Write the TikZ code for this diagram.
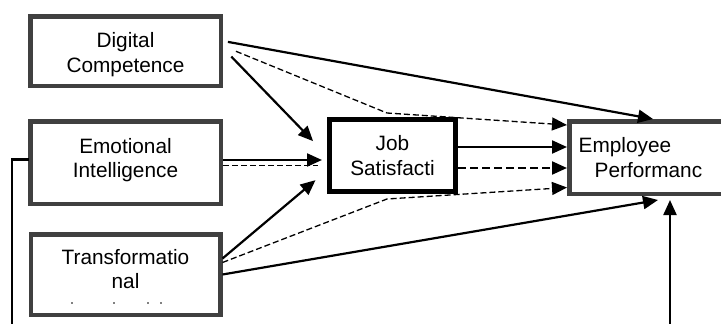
\documentclass[tikz,border=0pt]{standalone}
\usepackage{fontspec}
\setmainfont{Liberation Sans}
\usetikzlibrary{arrows.meta}

\definecolor{boxgray}{gray}{0.25}

\tikzset{
  box/.style={draw=boxgray, line width=4.5pt, fill=white, inner sep=0pt},
  jobbox/.style={draw=black, line width=5pt, fill=white, inner sep=0pt},
  lbl/.style={font=\fontsize{20.8}{24.5}\selectfont, align=center, inner sep=0pt},
  conn/.style={line width=2.2pt, -{Triangle[length=15pt,width=13pt]}},
  thindash/.style={line width=1.3pt, dash pattern=on 6pt off 3pt},
  thickdash/.style={line width=2.2pt, dash pattern=on 8pt off 4pt}
}

\begin{document}
\begin{tikzpicture}[x=1pt, y=-1pt]

        \useasboundingbox (0,0) rectangle (721,324);

        % Kaesten
        \node[box, minimum width=190.5pt, minimum height=69.5pt] (dig) at (125.5,51) {};
        \node[box, minimum width=190.5pt, minimum height=82.5pt] (emo) at (125.5,162.5) {};
        \node[box, minimum width=189.5pt, minimum height=80.5pt] (tra) at (125.5,274.5) {};
        \node[jobbox, minimum width=126pt, minimum height=72pt] (job) at (392.5,155.5) {};
        \node[box, minimum width=171pt, minimum height=72.5pt] (emp) at (654.75,157.5) {};

        % Beschriftungen
        \node[lbl] (dig-t) at ([yshift=-3.8pt]dig.center) {Digital\\Competence};
        \node[lbl] (emo-t) at ([yshift=2.4pt]emo.center) {Emotional\\Intelligence};
        \node[lbl] (tra-t) at ([yshift=5.5pt]tra.center) {Transformatio\\nal};
        \node[lbl] (job-t) at (job.center) {Job\\Satisfacti};
        \node[lbl, align=left, anchor=west] (emp-t) at ([xshift=11.5pt]emp.west) {Employee\\\hspace*{16pt}Performanc};

        % abgeschnittene dritte Zeile
        \foreach \x in {72,114,148,161}
        \fill (\x,303) circle (0.9pt);

        % Hilfspunkte
        \coordinate (bend-up) at ([xshift=60pt,yshift=4pt]job.north west);
        \coordinate (bend-lo) at ([xshift=60pt,yshift=-5pt]job.south west);
        \coordinate (emo-o) at ([yshift=2.5pt]emo.east);
        \coordinate (emo-d) at ([yshift=-3pt]emo.east);
        \coordinate (job-o) at ([yshift=8.5pt]job.east);
        \coordinate (job-d) at ([yshift=-12.5pt]job.east);
        \coordinate (loop) at (12,345);

        % Pfeile zur Arbeitszufriedenheit
        \draw[conn, shorten <=12pt, shorten >=20pt] ([yshift=3pt]dig.east) -- (job.west);
        \draw[conn, shorten >=5pt] (emo-o) -- (emo-o -| job.west);
        \draw[thindash, line width=1.5pt, shorten >=9pt] (emo-d) -- (emo-d -| job.west);
        \draw[conn, shorten >=15pt] ([yshift=16pt]tra.east) -- ([yshift=-15pt]job.west);

        % Pfeile zur Leistung
        \draw[conn, shorten <=5pt] ([yshift=10pt]dig.east) -- ([xshift=86pt]emp.north west);
        \draw[conn] (job-o) -- (job-o -| emp.west);
        \draw[conn, thickdash] (job-d) -- (job-d -| emp.west);
        \draw[conn] (tra.east) -- ([xshift=91pt,yshift=-4pt]emp.south west);

        % Mediationspfade (gestrichelt)
        \draw[conn, thindash, shorten <=14pt] ([yshift=5pt]dig.east) -- (bend-up) -- ([yshift=32.5pt]emp.west);
        \draw[conn, thindash] ([yshift=12pt]tra.east) -- (bend-lo) -- ([yshift=-30pt]emp.west);

        % Rueckpfad unten
        \draw[conn, line cap=rect] ([yshift=3pt]emo.west) -| (loop) -| ([xshift=103pt,yshift=-4pt]emp.south west);

    \end{tikzpicture}
\end{document}
